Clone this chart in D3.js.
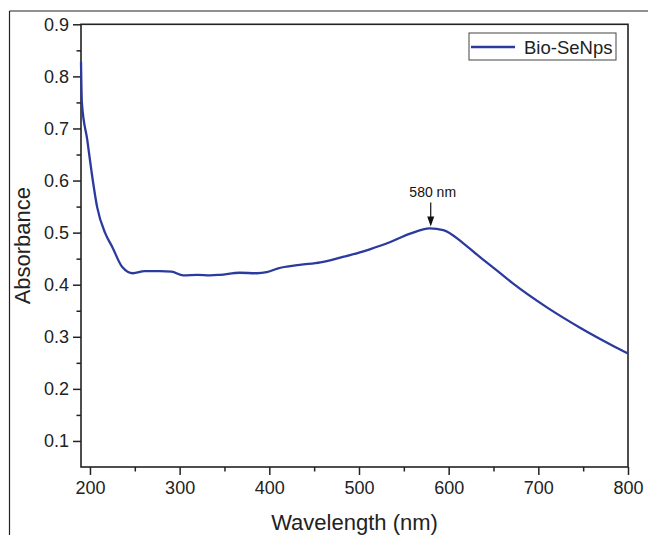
<!DOCTYPE html>
<html>
<head>
<meta charset="utf-8">
<script src="https://cdn.jsdelivr.net/npm/d3@7"></script>
<style>
  html, body { margin: 0; padding: 0; background: #fff; }
  svg { display: block; font-family: Arial, "Liberation Sans", sans-serif; }
</style>
</head>
<body>
<svg id="chart" width="648" height="535"></svg>
<script>
// данные
const wavelength = [190, 191, 197, 202, 208, 217, 225, 236, 248, 261, 278, 291, 304, 320, 334, 345, 367, 386, 397, 409, 434, 457, 479, 501, 512, 535, 557, 579, 594, 616, 635, 654, 672, 710, 747, 783, 800];
const absorbance = [0.828, 0.749, 0.678, 0.614, 0.549, 0.499, 0.472, 0.434, 0.422, 0.426, 0.426, 0.425, 0.418, 0.419, 0.418, 0.419, 0.423, 0.422, 0.424, 0.431, 0.438, 0.443, 0.452, 0.462, 0.468, 0.482, 0.498, 0.508, 0.505, 0.480, 0.453, 0.427, 0.402, 0.356, 0.317, 0.283, 0.268];
const xTicks = [200, 300, 400, 500, 600, 700, 800];
const yTicks = [0.1, 0.2, 0.3, 0.4, 0.5, 0.6, 0.7, 0.8, 0.9];
const seriesName = "Bio-SeNps";
const peakWave = 580;
const peakLabel = "580 nm";

const svg = d3.select("#chart");
const W = 648, H = 535;
const mLeft = 81, mRight = 628, mTop = 24.3, mBottom = 467;
const axisColor = "#222";
const lineColor = "#2b3a9e";

const x = d3.scaleLinear().domain([190, 800]).range([mLeft, mRight]);
const y = d3.scaleLinear().domain([0.05, 0.9]).range([mBottom, mTop]);

// внешняя рамка (видны только верх и лево)
svg.append("line").attr("x1", 9.5).attr("y1", 11).attr("x2", W).attr("y2", 11)
  .attr("stroke", axisColor).attr("stroke-width", 1.2);
svg.append("line").attr("x1", 9.5).attr("y1", 11).attr("x2", 9.5).attr("y2", H)
  .attr("stroke", axisColor).attr("stroke-width", 1.2);

// минорные деления
const xMinor = d3.range(250, 800, 100);
const yMinor = d3.range(0.15, 0.9, 0.1);

svg.append("g")
  .attr("transform", `translate(0,${mBottom})`)
  .call(d3.axisBottom(x).tickValues(xMinor).tickSize(4.5).tickFormat(""))
  .call(g => g.select(".domain").remove())
  .selectAll("line").attr("stroke", axisColor).attr("stroke-width", 1.5);

svg.append("g")
  .attr("transform", `translate(${mLeft},0)`)
  .call(d3.axisLeft(y).tickValues(yMinor).tickSize(4.5).tickFormat(""))
  .call(g => g.select(".domain").remove())
  .selectAll("line").attr("stroke", axisColor).attr("stroke-width", 1.5);

// основные оси
const xAxis = svg.append("g")
  .attr("transform", `translate(0,${mBottom})`)
  .call(d3.axisBottom(x).tickValues(xTicks).tickSize(8).tickPadding(6).tickFormat(d3.format("d")));
xAxis.select(".domain").remove();
xAxis.selectAll("line").attr("stroke", axisColor).attr("stroke-width", 1.5);
xAxis.selectAll("text").attr("font-size", "18px").attr("fill", "#222")
  .attr("font-family", "Arial, 'Liberation Sans', sans-serif");

const yAxis = svg.append("g")
  .attr("transform", `translate(${mLeft},0)`)
  .call(d3.axisLeft(y).tickValues(yTicks).tickSize(8).tickPadding(4).tickFormat(d3.format(".1f")));
yAxis.select(".domain").remove();
yAxis.selectAll("line").attr("stroke", axisColor).attr("stroke-width", 1.5);
yAxis.selectAll("text").attr("font-size", "18px").attr("fill", "#222")
  .attr("font-family", "Arial, 'Liberation Sans', sans-serif");

// рамка области построения
svg.append("rect")
  .attr("x", mLeft).attr("y", mTop)
  .attr("width", mRight - mLeft).attr("height", mBottom - mTop)
  .attr("fill", "none").attr("stroke", axisColor).attr("stroke-width", 1.6);

// кривая поглощения
const pts = wavelength.map((w, i) => ({ w, a: absorbance[i] }));
const line = d3.line()
  .x(d => x(d.w))
  .y(d => y(d.a))
  .curve(d3.curveMonotoneX);

svg.append("path")
  .datum(pts)
  .attr("fill", "none")
  .attr("stroke", lineColor)
  .attr("stroke-width", 2.3)
  .attr("stroke-linejoin", "round")
  .attr("d", line);

// подпись пика со стрелкой
const peakA = absorbance[wavelength.indexOf(579)];
const px = x(peakWave), py = y(peakA);
svg.append("text")
  .attr("x", px + 2).attr("y", py - 31)
  .attr("text-anchor", "middle")
  .attr("font-size", "14px").attr("fill", "#111")
  .text(peakLabel);
svg.append("line")
  .attr("x1", px).attr("y1", py - 26)
  .attr("x2", px).attr("y2", py - 8)
  .attr("stroke", "#111").attr("stroke-width", 1.2);
svg.append("path")
  .attr("d", `M${px - 3.5},${py - 12} L${px + 3.5},${py - 12} L${px},${py - 2} Z`)
  .attr("fill", "#111");

// легенда
const lg = svg.append("g").attr("transform", "translate(469,33)");
lg.append("rect").attr("width", 147).attr("height", 27)
  .attr("fill", "#fff").attr("stroke", "#444").attr("stroke-width", 1);
lg.append("line").attr("x1", 2).attr("x2", 46).attr("y1", 14).attr("y2", 14)
  .attr("stroke", lineColor).attr("stroke-width", 2.3);
lg.append("text").attr("x", 55).attr("y", 20.5)
  .attr("font-size", "18.5px").attr("fill", "#222")
  .text(seriesName);

// подписи осей
svg.append("text")
  .attr("x", (mLeft + mRight) / 2).attr("y", 530)
  .attr("text-anchor", "middle")
  .attr("font-size", "22px").attr("fill", "#222")
  .text("Wavelength (nm)");

svg.append("text")
  .attr("transform", `translate(30,${(mTop + mBottom) / 2}) rotate(-90)`)
  .attr("text-anchor", "middle")
  .attr("font-size", "22px").attr("fill", "#222")
  .text("Absorbance");
</script>
</body>
</html>
